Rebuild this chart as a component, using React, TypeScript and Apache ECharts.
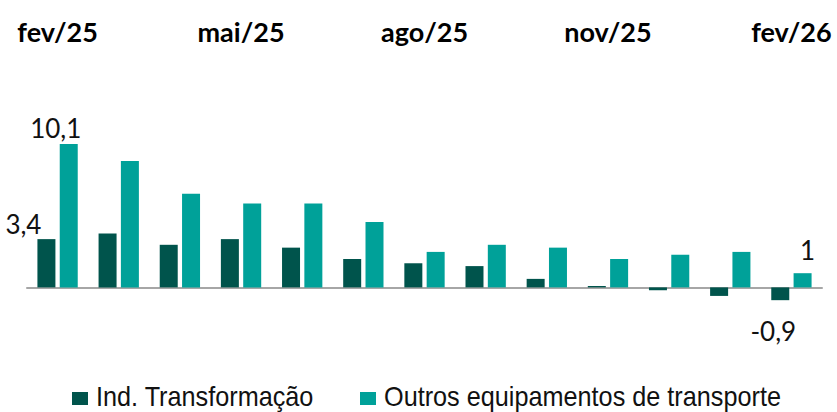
import React, { useEffect, useRef } from "react";
import * as echarts from "echarts";

const categories = ["fev/25", "mar/25", "abr/25", "mai/25", "jun/25", "jul/25", "ago/25", "set/25", "out/25", "nov/25", "dez/25", "jan/26", "fev/26"];
const indTransformacao = [3.4, 3.8, 3.0, 3.4, 2.8, 2.0, 1.7, 1.5, 0.6, 0.1, -0.2, -0.6, -0.9];
const outrosEquipamentos = [10.1, 8.9, 6.6, 5.9, 5.9, 4.6, 2.5, 3.0, 2.8, 2.0, 2.3, 2.5, 1.0];
const seriesNames = ["Ind. Transformação", "Outros equipamentos de transporte"];

const DARK = "#00544C";
const TEAL = "#00A199";
const LABEL_FONT = "Lato, 'Liberation Sans', sans-serif";
const LEGEND_FONT = "'Liberation Sans', Arial, sans-serif";

const fmt = (v: number) => String(v).replace(".", ",");

function buildData(values: number[], firstLabel: any, lastLabel: any) {
  return values.map((v, i) => {
    if (i === 0) return { value: v, label: firstLabel };
    if (i === values.length - 1) return { value: v, label: lastLabel };
    return { value: v };
  });
}

function legendItem(name: string, color: string, x: number) {
  return {
    type: "group",
    children: [
      { type: "rect", shape: { x, y: 392, width: 16, height: 13 }, style: { fill: color } },
      {
        type: "text",
        x: x + 24,
        y: 397,
        scaleX: 0.935,
        style: {
          text: name,
          fontFamily: LEGEND_FONT,
          fontSize: 27,
          fill: "#111",
          verticalAlign: "middle",
          align: "left",
        },
      },
    ],
  };
}

export default function App() {
  const ref = useRef<HTMLDivElement>(null);
  useEffect(() => {
    if (!ref.current) return;
    const chart = echarts.init(ref.current, undefined, { renderer: "svg" });
    const labelBase = {
      show: true,
      fontFamily: LABEL_FONT,
      fontSize: 26,
      color: "#111",
      formatter: (p: any) => fmt(p.value),
    };
    chart.setOption({
      animation: false,
      grid: { left: 27, right: 15, top: 117, bottom: 82, containLabel: false },
      legend: { show: false, data: seriesNames },
      graphic: [legendItem(seriesNames[0], DARK, 72), legendItem(seriesNames[1], TEAL, 360)],
      xAxis: [
        {
          type: "category",
          data: categories,
          position: "top",
          axisLine: { show: false, onZero: false },
          axisTick: { show: false },
          axisLabel: {
            interval: 2,
            margin: 86,
            verticalAlign: "middle",
            fontFamily: LABEL_FONT,
            fontWeight: "bold",
            fontSize: 27,
            color: "#000",
          },
        },
        {
          type: "category",
          data: categories,
          position: "bottom",
          axisLine: { show: true, onZero: true, lineStyle: { color: "#A6A6A6", width: 2 } },
          axisTick: { show: false },
          axisLabel: { show: false },
        },
      ],
      yAxis: {
        type: "value",
        min: -3,
        max: 12,
        show: false,
        splitLine: { show: false },
      },
      series: [
        {
          name: seriesNames[0],
          type: "bar",
          xAxisIndex: 0,
          barWidth: 18,
          barGap: "24%",
          itemStyle: { color: DARK },
          data: buildData(
            indTransformacao,
            { ...labelBase, position: "top", offset: [-23, 3] },
            { ...labelBase, position: "bottom", offset: [-7, 13] }
          ),
        },
        {
          name: seriesNames[1],
          type: "bar",
          xAxisIndex: 0,
          barWidth: 18,
          itemStyle: { color: TEAL },
          data: buildData(
            outrosEquipamentos,
            { ...labelBase, position: "top", offset: [-13, 2] },
            { ...labelBase, position: "top", offset: [5, -5] }
          ),
        },
      ],
    });
    return () => chart.dispose();
  }, []);
  return <div ref={ref} style={{ position: "absolute", left: 0, top: 0, width: 837, height: 412 }} />;
}
